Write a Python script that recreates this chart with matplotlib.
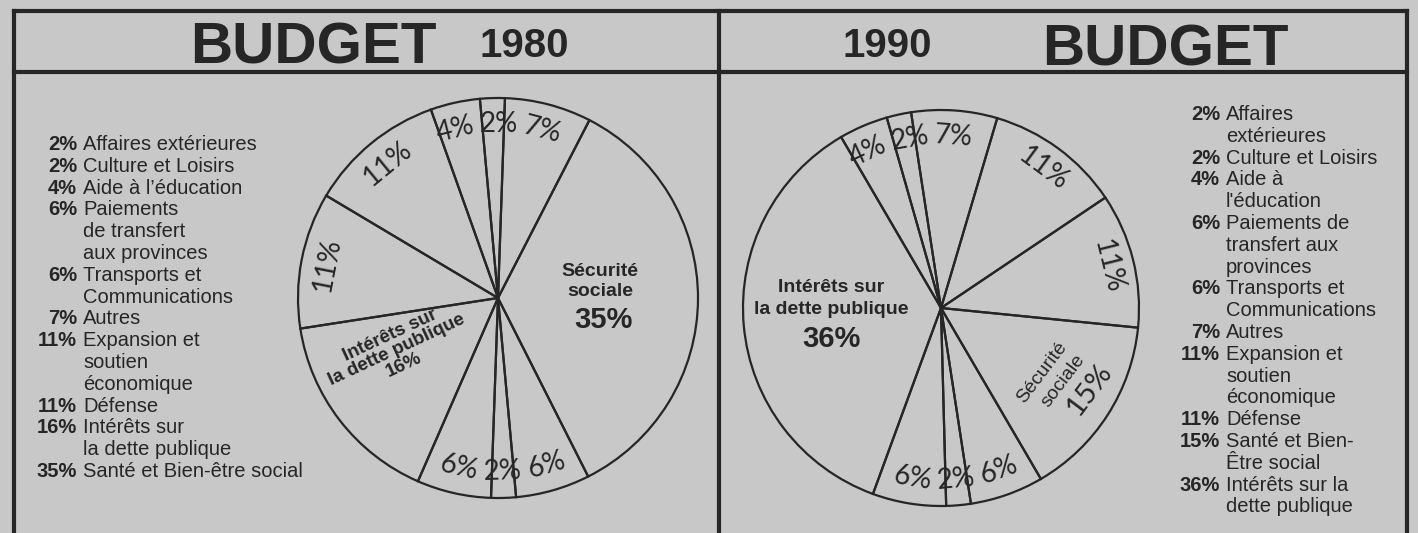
import matplotlib.pyplot as plt
import numpy as np

W, H = 1418, 533
PAPER = '#c8c8c8'
INK = '#262626'

SANS = ['Liberation Sans', 'DejaVu Sans']
ROUND = ['Lato', 'DejaVu Sans']

# pie slices, clockwise from the top of each pie
pct_1980 = [7, 35, 6, 2, 6, 16, 11, 11, 4, 2]
pct_1990 = [7, 11, 11, 15, 6, 2, 6, 36, 4, 2]

# side lists
legend_pct_1980 = [2, 2, 4, 6, 6, 7, 11, 11, 16, 35]
legend_txt_1980 = ['Affaires extérieures', 'Culture et Loisirs', 'Aide à l’éducation',
                   'Paiements\nde transfert\naux provinces', 'Transports et\nCommunications',
                   'Autres', 'Expansion et\nsoutien\néconomique', 'Défense',
                   'Intérêts sur\nla dette publique', 'Santé et Bien-être social']
legend_pct_1990 = [2, 2, 4, 6, 6, 7, 11, 11, 15, 36]
legend_txt_1990 = ['Affaires\nextérieures', 'Culture et Loisirs', "Aide à\nl'éducation",
                   'Paiements de\ntransfert aux\nprovinces', 'Transports et\nCommunications',
                   'Autres', 'Expansion et\nsoutien\néconomique', 'Défense',
                   'Santé et Bien-\nÊtre social', 'Intérêts sur la\ndette publique']


def Y(y):
    # pixel rows are counted from the top
    return H - y


fig = plt.figure(figsize=(W / 100, H / 100), dpi=100)
fig.patch.set_facecolor(PAPER)
ax = fig.add_axes([0, 0, 1, 1])
ax.set_facecolor(PAPER)

# frame: outer box, header rule and the middle divider
lw_frame = 3.0
ax.plot([14, 14], [Y(11), Y(H + 5)], color=INK, lw=lw_frame, solid_capstyle='projecting')
ax.plot([1407, 1407], [Y(11), Y(H + 5)], color=INK, lw=lw_frame, solid_capstyle='projecting')
ax.plot([719, 719], [Y(11), Y(H + 5)], color=INK, lw=lw_frame)
ax.plot([14, 1407], [Y(11), Y(11)], color=INK, lw=lw_frame, solid_capstyle='projecting')
ax.plot([14, 1407], [Y(72), Y(72)], color=INK, lw=lw_frame)

# headers
ax.text(313, Y(64), 'BUDGET', ha='center', va='baseline', fontsize=42,
        fontweight='bold', family=SANS, color=INK)
ax.text(524, Y(57), '1980', ha='center', va='baseline', fontsize=29,
        fontweight='bold', family=SANS, color=INK)
ax.text(887, Y(57), '1990', ha='center', va='baseline', fontsize=29,
        fontweight='bold', family=SANS, color=INK)
ax.text(1165, Y(65), 'BUDGET', ha='center', va='baseline', fontsize=42,
        fontweight='bold', family=SANS, color=INK)


def draw_legend(x_num, y_first, pcts, labels, step=21.8, size=14.5):
    row = 0
    for p, lab in zip(pcts, labels):
        ax.text(x_num, Y(y_first + row * step + 7), f'{p}%', ha='right', va='baseline',
                fontsize=size, fontweight='bold', family=SANS, color=INK)
        for k, line in enumerate(lab.split('\n')):
            ax.text(x_num + 6, Y(y_first + (row + k) * step + 7), line, ha='left',
                    va='baseline', fontsize=size, family=SANS, color=INK)
        row += len(lab.split('\n'))


draw_legend(77, 143, legend_pct_1980, legend_txt_1980)
draw_legend(1220, 113, legend_pct_1990, legend_txt_1990)


def spread(angles, widths, rounds=50):
    # nudge neighbouring label angles apart so the labels don't collide
    a = list(angles)
    n = len(a)
    for _ in range(rounds):
        for i in range(n):
            j = (i + 1) % n
            gap = (a[i] - a[j]) % 360          # clockwise means decreasing angle
            need = (widths[i] + widths[j]) / 2
            if gap < need:
                push = (need - gap) / 2
                a[i] += push
                a[j] -= push
    return a


def draw_pie(values, cx, cy, r, start_cw, skip):
    wedges, _ = ax.pie(values, startangle=90 - start_cw, counterclock=False,
                       center=(cx, Y(cy)), radius=r, frame=True,
                       wedgeprops=dict(facecolor='none', edgecolor=INK, linewidth=1.6))
    rr = 0.87 * r
    idx = [i for i in range(len(values)) if i not in skip]
    mids = [(wedges[i].theta1 + wedges[i].theta2) / 2 for i in idx]
    widths = [np.rad2deg((28 + 16 * len(str(values[i]))) / rr) for i in idx]
    for i, ang in zip(idx, spread(mids, widths)):
        t = np.deg2rad(ang)
        rot = ang % 180 - 90
        ax.text(cx + rr * np.cos(t), Y(cy) + rr * np.sin(t), f'{values[i]}%',
                ha='center', va='center', rotation=rot, rotation_mode='anchor',
                fontsize=20, family=ROUND, color=INK)
    return wedges


# 1980
draw_pie(pct_1980, 498, 298, 200, 2, skip={1, 5})
ax.text(600, Y(272), 'Sécurité', ha='center', va='center', fontsize=14,
        fontweight='bold', family=SANS, color=INK)
ax.text(600, Y(292), 'sociale', ha='center', va='center', fontsize=14,
        fontweight='bold', family=SANS, color=INK)
ax.text(603, Y(320), f'{pct_1980[1]}%', ha='center', va='center', fontsize=21,
        fontweight='bold', family=SANS, color=INK)
ax.text(397, Y(350), f'Intérêts sur\nla dette publique\n{pct_1980[5]}%', ha='center',
        va='center', rotation=25, rotation_mode='anchor', linespacing=0.95,
        fontsize=13.5, fontweight='bold', family=SANS, color=INK)

# 1990
draw_pie(pct_1990, 941, 308, 198, -8.7, skip={3, 7})
ax.text(831, Y(287), 'Intérêts sur', ha='center', va='center', fontsize=14,
        fontweight='bold', family=SANS, color=INK)
ax.text(831, Y(310), 'la dette publique', ha='center', va='center', fontsize=14,
        fontweight='bold', family=SANS, color=INK)
ax.text(831, Y(339), f'{pct_1990[7]}%', ha='center', va='center', fontsize=21,
        fontweight='bold', family=SANS, color=INK)
ax.text(1042, Y(373), 'Sécurité', ha='center', va='center', rotation=53,
        rotation_mode='anchor', fontsize=14, family=SANS, color=INK)
ax.text(1063, Y(381), 'sociale', ha='center', va='center', rotation=53,
        rotation_mode='anchor', fontsize=14, family=SANS, color=INK)
ax.text(1089, Y(389), f'{pct_1990[3]}%', ha='center', va='center', rotation=53,
        rotation_mode='anchor', fontsize=21, family=ROUND, color=INK)

ax.set_aspect('auto')
ax.set_xlim(0, W)
ax.set_ylim(0, H)
ax.axis('off')

fig.savefig('out.png', dpi=100, facecolor=PAPER)
